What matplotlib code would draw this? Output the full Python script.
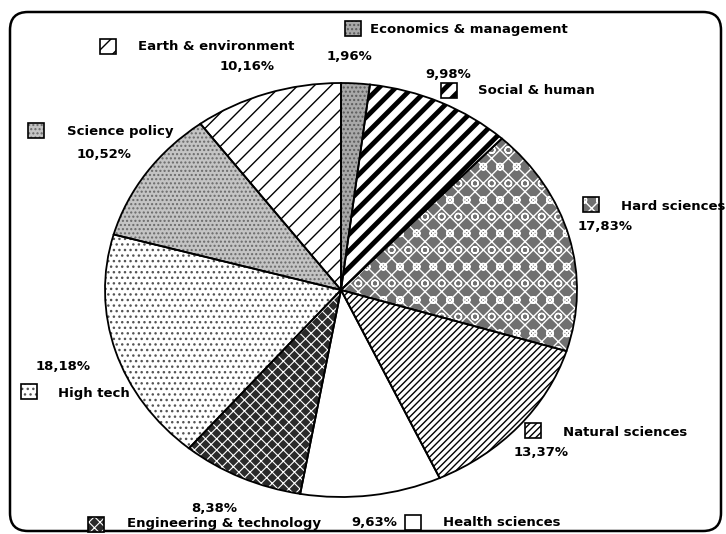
import matplotlib.pyplot as plt
from matplotlib.patches import Rectangle, FancyBboxPatch

# Data
fields = ['Economics & management', 'Social & human', 'Hard sciences',
          'Natural sciences', 'Health sciences', 'Engineering & technology',
          'High tech', 'Science policy', 'Earth & environment']
shares = [1.96, 9.98, 17.83, 13.37, 9.63, 8.38, 18.18, 10.52, 10.16]

# fill colour, hatch colour, hatch, hatch width for each slice
fills = ['#a8a8a8', 'white', '#707070', 'white', 'white',
         '#2a2a2a', 'white', '#c4c4c4', 'white']
hatch_colors = ['#5a5a5a', 'black', 'white', 'black', 'black',
                'white', '#555555', '#6a6a6a', 'black']
hatches = ['....', '//', 'xxo', '/////', '', 'xxx', '...', '....', '//']
hatch_widths = [1.0, 3.5, 1.0, 1.0, 1.0, 0.8, 1.0, 1.0, 1.0]

# label layout in pixels: square (x, y), name (x, y), percent (x, y)
squares = [(345, 21), (441, 83), (583, 197), (525, 423), (405, 515),
           (88, 517), (21, 384), (28, 123), (100, 39)]
name_pos = [(370, 30), (478, 91), (621, 206), (563, 433), (443, 522),
            (127, 523), (58, 393), (67, 131), (138, 47)]
pct_pos = [(349, 56), (448, 74), (605, 226), (541, 452), (374, 522),
           (214, 508), (63, 367), (104, 155), (247, 67)]

W, H = 726, 534
fig = plt.figure(figsize=(W / 100, H / 100), dpi=100)

# background axes in pixel coordinates for the frame and labels
bg = fig.add_axes([0, 0, 1, 1])
bg.set_xlim(0, W)
bg.set_ylim(H, 0)
bg.axis('off')

frame = FancyBboxPatch((10, 12), 711, 519,
                       boxstyle='round,pad=0,rounding_size=18',
                       facecolor='none', edgecolor='black', linewidth=1.8)
bg.add_patch(frame)

def style_patch(p, i):
    p.set_facecolor(fills[i])
    p.set_edgecolor(hatch_colors[i])
    p.set_hatch(hatches[i])
    if hasattr(p, 'set_hatch_linewidth'):
        p.set_hatch_linewidth(hatch_widths[i])

for i, name in enumerate(fields):
    sx, sy = squares[i]
    sq = Rectangle((sx, sy), 16, 15, linewidth=0)
    style_patch(sq, i)
    bg.add_patch(sq)
    bg.add_patch(Rectangle((sx, sy), 16, 15, fill=False,
                           edgecolor='black', linewidth=1.2))
    bg.text(name_pos[i][0], name_pos[i][1], name, ha='left', va='center',
            fontsize=9.5, fontweight='bold')
    pct = f'{shares[i]:.2f}'.replace('.', ',') + '%'
    bg.text(pct_pos[i][0], pct_pos[i][1], pct, ha='center', va='center',
            fontsize=9.5, fontweight='bold')

# pie axes: an ellipse, wider than tall
ax = fig.add_axes([105 / W, (H - 497) / H, 472 / W, 414 / H])
wedges, _ = ax.pie(shares, startangle=90, counterclock=False,
                   wedgeprops=dict(linewidth=0))
for i, w in enumerate(wedges):
    style_patch(w, i)

outline, _ = ax.pie(shares, startangle=90, counterclock=False,
                    wedgeprops=dict(fill=False, edgecolor='black', linewidth=1.3))
for w in outline:
    w.set_clip_on(False)

ax.set_aspect('auto')
ax.set_xlim(-1, 1)
ax.set_ylim(-1, 1)
ax.axis('off')

fig.savefig('out.png', dpi=100)
